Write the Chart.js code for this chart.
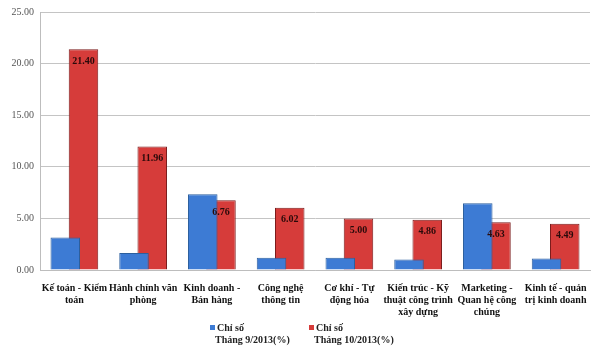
<!DOCTYPE html>
<html>
<head>
<meta charset="utf-8">
<script src="https://cdn.jsdelivr.net/npm/chart.js@4/dist/chart.umd.min.js"></script>
<style>
  body { margin: 0; background: #fff; }
  #wrap { position: relative; width: 600px; height: 352px; }
  #legend { position: absolute; top: 322px; left: 0; width: 600px; font-family: "Liberation Serif", serif; font-weight: bold; font-size: 10px; color: #222; }
  .item { position: absolute; line-height: 12px; }
  .box { display: inline-block; width: 5px; height: 5px; margin-right: 2px; vertical-align: 1px; }
  .sub { padding-left: 5px; }
</style>
</head>
<body>
<div id="wrap">
  <canvas id="bar-chart"></canvas>
  <div id="legend"></div>
</div>
<script>
var categories = [
    ["Kế toán - Kiểm", "toán"],
    ["Hành chính văn", "phòng"],
    ["Kinh doanh -", "Bán hàng"],
    ["Công nghệ", "thông tin"],
    ["Cơ khí - Tự", "động hóa"],
    ["Kiến trúc - Kỹ", "thuật công trình", "xây dựng"],
    ["Marketing -", "Quan hệ công", "chúng"],
    ["Kinh tế - quản", "trị kinh doanh"]
];
var thang9 = [3.15, 1.65, 7.35, 1.18, 1.18, 1.02, 6.48, 1.12];
var thang10 = [21.40, 11.96, 6.76, 6.02, 5.00, 4.86, 4.63, 4.49];
var seriesNames = [["Chỉ số", "Tháng 9/2013(%)"], ["Chỉ số", "Tháng 10/2013(%)"]];
var yTicks = [0, 5, 10, 15, 20, 25];

var blue = "#3d7bd4";
var red = "#d63c3a";

// value labels on red bars
var valueLabels = {
    id: 'valueLabels',
    afterDatasetsDraw(chart){
        var ctx = chart.ctx;
        var meta = chart.getDatasetMeta(1);
        ctx.save();
        ctx.font = "bold 10px 'Liberation Serif', serif";
        ctx.fillStyle = "#2a0a0a";
        ctx.textAlign = "center";
        ctx.textBaseline = "middle";
        meta.data.forEach(function(bar, i){
            ctx.fillText(thang10[i].toFixed(2), bar.x, bar.y + 12);
        });
        ctx.restore();
    }
};

new Chart(document.getElementById("bar-chart"), {
    type: 'bar',
    data: {
        labels: categories,
        datasets: [
            {
                label: seriesNames[0].join(" "),
                data: thang9,
                backgroundColor: blue,
                borderColor: "#2c5f9e",
                borderWidth: 1,
                categoryPercentage: 0.53,
                barPercentage: 1.62
            },
            {
                label: seriesNames[1].join(" "),
                data: thang10,
                backgroundColor: red,
                borderColor: "#7a1c1c",
                borderWidth: 1,
                categoryPercentage: 0.53,
                barPercentage: 1.62
            }
        ]
    },
    options: {
        responsive: true,
        maintainAspectRatio: false,
        animation: false,
        layout: { padding: { top: 4, right: 10, left: 0, bottom: 0 } },
        plugins: {
            legend: { display: false },
            tooltip: { enabled: false }
        },
        scales: {
            x: {
                grid: { display: false },
                border: { color: "#bdbdbd" },
                ticks: {
                    color: "#111",
                    font: { family: "'Liberation Serif', serif", size: 10, weight: 'bold' },
                    maxRotation: 0,
                    autoSkip: false,
                    padding: 4
                },
                afterFit(scale){ scale.height = 82; }
            },
            y: {
                min: 0,
                max: 25,
                afterBuildTicks(scale){ scale.ticks = yTicks.map(function(v){ return {value: v}; }); },
                grid: { color: "#c4c4c4", drawTicks: false },
                border: { color: "#bdbdbd" },
                ticks: {
                    color: "#555",
                    font: { family: "'Liberation Serif', serif", size: 10 },
                    padding: 6,
                    callback: function(v){ return Number(v).toFixed(2); }
                },
                afterFit(scale){ scale.width = 40; }
            }
        }
    },
    plugins: [valueLabels]
});

// legend with two-line labels
var legend = document.getElementById("legend");
var legendX = [210, 309];
var colors = [blue, red];
seriesNames.forEach(function(name, i){
    var d = document.createElement("div");
    d.className = "item";
    d.style.left = legendX[i] + "px";
    d.innerHTML = '<span class="box" style="background:' + colors[i] + '"></span>' + name[0] +
        '<br><span class="sub">' + name[1] + '</span>';
    legend.appendChild(d);
});
</script>
</body>
</html>
